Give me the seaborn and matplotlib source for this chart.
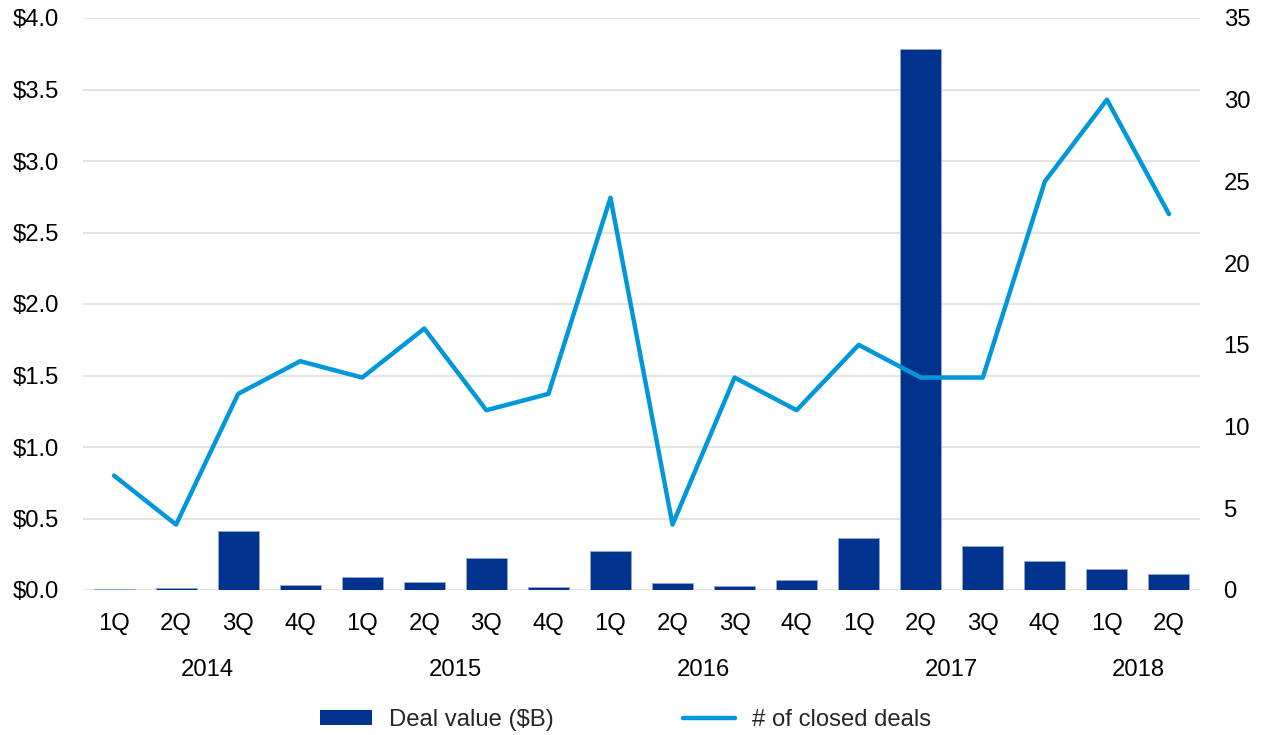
import matplotlib
matplotlib.use("Agg")
import matplotlib.pyplot as plt
import seaborn as sns
import numpy as np
import pandas as pd
from matplotlib.patches import Patch
from matplotlib.lines import Line2D
from matplotlib.ticker import FuncFormatter, MultipleLocator
import matplotlib.transforms as mtransforms

quarters = ["1Q", "2Q", "3Q", "4Q", "1Q", "2Q", "3Q", "4Q", "1Q", "2Q", "3Q", "4Q",
            "1Q", "2Q", "3Q", "4Q", "1Q", "2Q"]
years = ["2014"] * 4 + ["2015"] * 4 + ["2016"] * 4 + ["2017"] * 4 + ["2018"] * 2
deal_value = [0.005, 0.014, 0.41, 0.037, 0.092, 0.056, 0.223, 0.021, 0.272, 0.049,
              0.026, 0.073, 0.361, 3.78, 0.305, 0.202, 0.150, 0.110]
closed_deals = [7, 4, 12, 14, 13, 16, 11, 12, 24, 4, 13, 11, 15, 13, 13, 25, 30, 23]

bar_color = "#00338D"
bar_edge = "#8FA6CF"
line_color = "#0098DB"
grid_color = "#E4E4E0"

sns.set_theme(style="white")
plt.rcParams["font.family"] = ["Liberation Sans", "DejaVu Sans"]
FS = 17.2

df = pd.DataFrame({"idx": [f"{y}-{q}-{i}" for i, (y, q) in enumerate(zip(years, quarters))],
                   "pos": np.arange(len(quarters)),
                   "value": deal_value, "deals": closed_deals})

fig = plt.figure(figsize=(12.67, 7.35), dpi=100)
ax = fig.add_axes([83 / 1267, 1 - 590 / 735, (1200 - 83) / 1267, (590 - 18) / 735])

sns.barplot(data=df, x="idx", y="value", color=bar_color, saturation=1, width=0.66,
            edgecolor=bar_edge, linewidth=0.7, ax=ax, zorder=3)
ax.set_xlim(-0.5, len(quarters) - 0.5)
ax.set_ylim(0, 4.0)
ax.yaxis.set_major_locator(MultipleLocator(0.5))
ax.yaxis.set_major_formatter(FuncFormatter(lambda v, p: f"${v:.1f}"))
ax.set_xticks(np.arange(len(quarters)))
ax.set_xticklabels(quarters)
ax.set_xlabel("")
ax.set_ylabel("")
ax.grid(axis="y", color=grid_color, linewidth=1.5, zorder=0)
ax.set_axisbelow(True)
for s in ax.spines.values():
    s.set_visible(False)
ax.tick_params(axis="x", length=0, pad=16.5, labelsize=FS, colors="black")
ax.tick_params(axis="y", length=0, pad=17, labelsize=FS, colors="black")

ax2 = ax.twinx()
sns.lineplot(x=df["pos"], y=df["deals"], color=line_color, linewidth=3.2, ax=ax2,
             zorder=4)
ax2.set_xlim(-0.5, len(quarters) - 0.5)
ax2.set_ylim(0, 35)
ax2.yaxis.set_major_locator(MultipleLocator(5))
ax2.set_ylabel("")
ax2.set_xlabel("")
for s in ax2.spines.values():
    s.set_visible(False)
ax2.tick_params(axis="y", length=0, pad=17, labelsize=FS, colors="black")
ax2.grid(False)

# year labels
trans = mtransforms.blended_transform_factory(ax.transData, ax.transAxes)
year_order = list(dict.fromkeys(years))
for yr in year_order:
    pos = [i for i, y in enumerate(years) if y == yr]
    ax.text(np.mean(pos), -0.14, yr, transform=trans, ha="center", va="center",
            fontsize=FS, color="black")

handles = [Patch(facecolor=bar_color, edgecolor="none", label="Deal value ($B)"),
           Line2D([0], [0], color=line_color, linewidth=3.2, label="# of closed deals")]
fig.legend(handles=handles, loc="center", bbox_to_anchor=(0.4935, 1 - 720 / 735),
           ncol=2, frameon=False, fontsize=FS, handlelength=2.2, handleheight=0.55,
           columnspacing=5.4, handletextpad=0.7)

fig.savefig("out.png", dpi=100)
